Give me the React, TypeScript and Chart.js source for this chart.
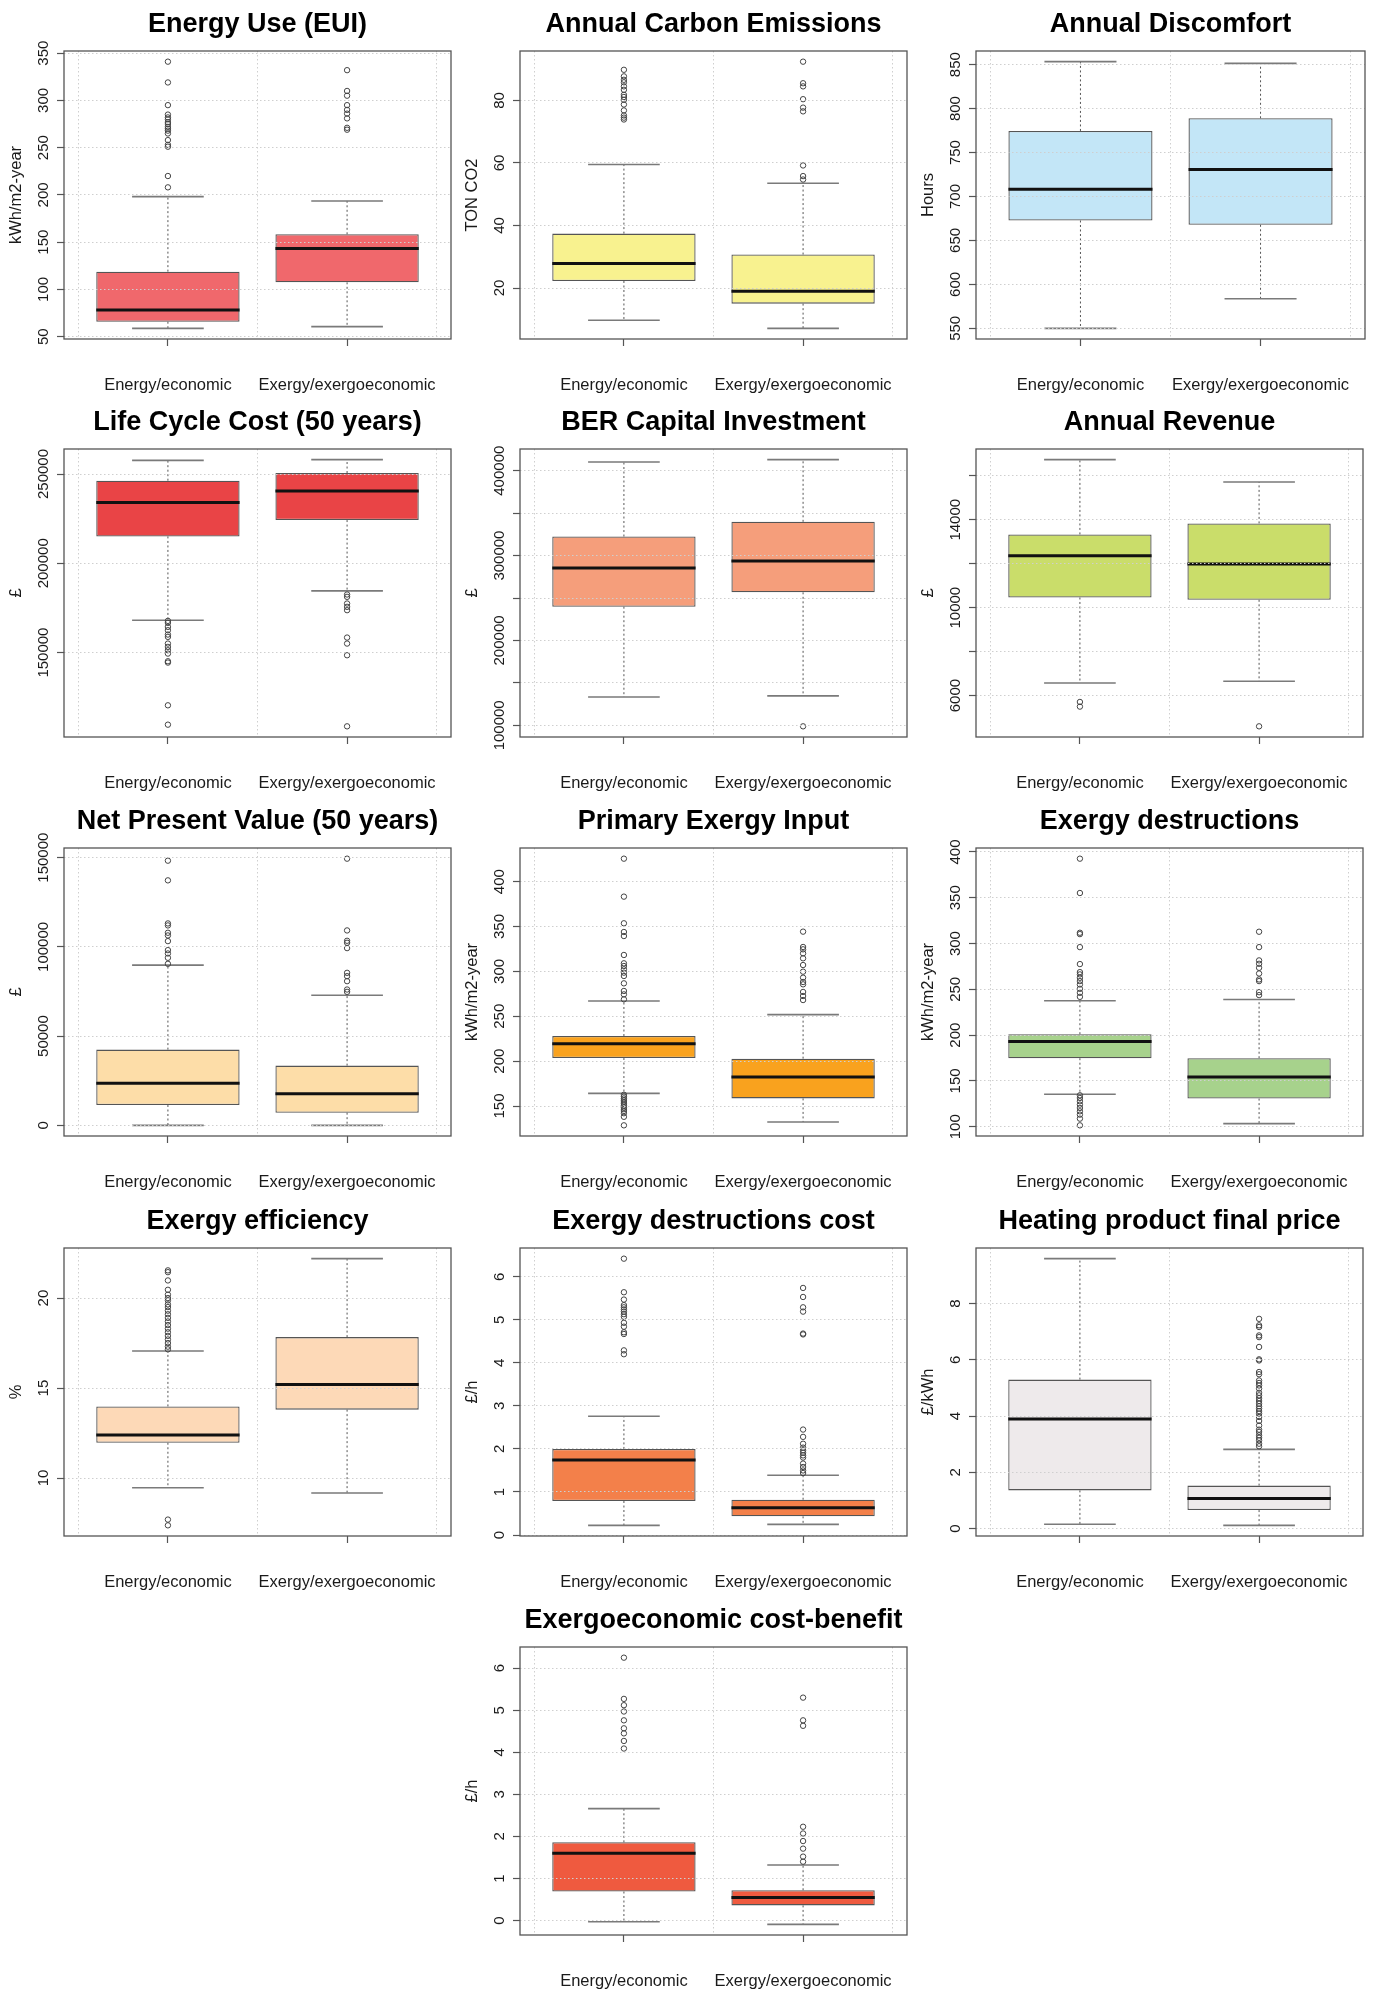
import React, { useEffect, useRef } from "react";
import { Chart, registerables } from "chart.js";

Chart.register(...registerables);

const FONT = '"Liberation Sans", Arial, Helvetica, sans-serif';
Chart.defaults.font.family = FONT;

const CATEGORIES = ["Energy/economic", "Exergy/exergoeconomic"];

// each stats row: [lower whisker, Q1, median, Q3, upper whisker]
const EUI_STATS = [[58.8, 65.8, 78.2, 118.8, 198.2], [60.6, 107.5, 143.2, 158.3, 193.6]];
const EUI_OUTLIERS = [
  [341, 319, 295, 285, 282, 280, 277, 275, 272, 270, 268, 265, 258, 253, 251, 220, 208],
  [332, 310, 305, 295, 290, 286, 281, 271, 269],
];
const EUI_TICKS = [50, 100, 150, 200, 250, 300, 350];

const CO2_STATS = [[9.7, 22.25, 27.8, 37.4, 59.5], [7.1, 15.0, 18.95, 30.7, 53.5]];
const CO2_OUTLIERS = [
  [89.8, 87.7, 86.6, 85.8, 84.5, 83.4, 81.8, 81.1, 80.2, 78.7, 76.8, 75.2, 74.5, 73.9],
  [92.4, 85.5, 84.5, 80.4, 77.7, 76.5, 59.2, 55.8, 54.7],
];
const CO2_TICKS = [20, 40, 60, 80];

const DISCOMFORT_STATS = [[550, 672.7, 708.3, 774.6, 853.4], [583.7, 667.8, 730.7, 789, 851.5]];
const DISCOMFORT_OUTLIERS: number[][] = [[], []];
const DISCOMFORT_TICKS = [550, 600, 650, 700, 750, 800, 850];

const LCC_STATS = [[168131, 215047, 234112, 246262, 257664], [184579, 224206, 240467, 250561, 258037]];
const LCC_OUTLIERS = [
  [167757, 166636, 164393, 162523, 160093, 158785, 155047, 153178, 151308, 149439, 145140, 144393, 120467, 109626],
  [182523, 181215, 177477, 175607, 173738, 158411, 155047, 148505, 108692],
];
const LCC_TICKS = [150000, 200000, 250000];

const BER_STATS = [[133465, 239764, 285433, 322441, 410236], [134646, 256693, 293701, 339764, 412992]];
const BER_OUTLIERS = [[], [98819]];
const BER_TICKS = [100000, 150000, 200000, 250000, 300000, 350000, 400000];
const BER_LABELS = [100000, 200000, 300000, 400000];

const REVENUE_STATS = [[6577, 10463, 12361, 13332, 16732], [6653, 10357, 11981, 13833, 15715]];
const REVENUE_OUTLIERS = [[5712, 5500], [4603]];
const REVENUE_TICKS = [6000, 8000, 10000, 12000, 14000, 16000];
const REVENUE_LABELS = [6000, 10000, 14000];

const NPV_STATS = [[0, 11392, 23550, 42443, 89768], [0, 7089, 17751, 33464, 72933]];
const NPV_OUTLIERS = [
  [148317, 137280, 113150, 112027, 107912, 106415, 103235, 98185, 96314, 93883, 90516],
  [149439, 109222, 103423, 102301, 99308, 85466, 83595, 80789, 76112, 74803],
];
const NPV_TICKS = [0, 50000, 100000, 150000];

const PEI_STATS = [[164.1, 203.5, 219.5, 228, 267], [132.2, 158.5, 182.3, 202.8, 251.8]];
const PEI_OUTLIERS = [
  [425.6, 383.3, 353.6, 343.9, 339.4, 318.3, 309, 306, 302.3, 298.6, 294.9, 286.7, 278.2, 274.4, 268.9,
    162.5, 160.5, 158.5, 156.5, 154.5, 152.5, 150.5, 148.5, 146.5, 144.5, 142, 138, 128.5],
  [344.3, 327.2, 324.6, 320.1, 314.6, 307.1, 299.7, 293, 288.2, 285.6, 277.1, 272.6, 268.1],
];
const PEI_TICKS = [150, 200, 250, 300, 350, 400];

const EXD_STATS = [[135.4, 174.8, 193, 201, 237.5], [103.4, 130.7, 154.4, 174.8, 238.9]];
const EXD_OUTLIERS = [
  [392.7, 355.2, 311.8, 310.3, 296.1, 277.6, 268.8, 266.3, 262.6, 259, 255.3, 250.6, 246.2, 241.8,
    134.3, 131.4, 127.8, 124.1, 120.5, 116.8, 113.2, 108.8, 101.5],
  [312.9, 296.1, 281.6, 277.9, 273.5, 267.3, 260.8, 259, 246.9, 243.7],
];
const EXD_TICKS = [100, 150, 200, 250, 300, 350, 400];

const EFF_STATS = [[9.46, 11.96, 12.39, 13.98, 17.06], [9.17, 13.8, 15.19, 17.83, 22.19]];
const EFF_OUTLIERS = [
  [21.54, 21.44, 20.98, 20.46, 20.19, 20.0, 19.87, 19.65, 19.5, 19.3, 19.1, 18.9, 18.7, 18.5, 18.3,
    18.1, 17.9, 17.7, 17.5, 17.3, 17.15, 7.69, 7.37],
  [],
];
const EFF_TICKS = [10, 15, 20];

const EDC_STATS = [[0.225, 0.79, 1.74, 2.0, 2.76], [0.248, 0.434, 0.636, 0.82, 1.39]];
const EDC_OUTLIERS = [
  [6.42, 5.64, 5.47, 5.34, 5.29, 5.24, 5.19, 5.13, 5.07, 4.93, 4.84, 4.71, 4.67, 4.29, 4.2],
  [5.74, 5.53, 5.29, 5.19, 4.68, 4.66, 2.45, 2.28, 2.12, 2.03, 1.97, 1.91, 1.85, 1.8, 1.66, 1.58, 1.5, 1.44],
];
const EDC_TICKS = [0, 1, 2, 3, 4, 5, 6];

const HPP_STATS = [[0.154, 1.36, 3.9, 5.3, 9.6], [0.118, 0.66, 1.07, 1.53, 2.82]];
const HPP_OUTLIERS = [
  [],
  [7.46, 7.23, 7.17, 6.87, 6.81, 6.46, 6.02, 5.98, 5.57, 5.49, 5.27, 5.18, 5.09, 4.98, 4.83, 4.74,
    4.64, 4.54, 4.44, 4.35, 4.27, 4.18, 4.09, 3.97, 3.83, 3.67, 3.52, 3.44, 3.32, 3.23, 3.14, 3.02, 2.93],
];
const HPP_TICKS = [0, 2, 4, 6, 8];

const ECB_STATS = [[-0.03, 0.69, 1.6, 1.86, 2.66], [-0.09, 0.36, 0.55, 0.72, 1.32]];
const ECB_OUTLIERS = [
  [6.25, 5.27, 5.12, 4.97, 4.76, 4.57, 4.45, 4.27, 4.09],
  [5.3, 4.76, 4.63, 2.23, 2.07, 1.89, 1.71, 1.52, 1.4],
];
const ECB_TICKS = [0, 1, 2, 3, 4, 5, 6];

type Panel = {
  title: string;
  unit: string;
  color: string;
  stats: number[][];
  outliers: number[][];
  ticks: number[];
  labels?: number[];
  row: number;
  col: number;
};

const PANELS: Panel[] = [
  { title: "Energy Use (EUI)", unit: "kWh/m2-year", color: "#F0686C", stats: EUI_STATS, outliers: EUI_OUTLIERS, ticks: EUI_TICKS, row: 0, col: 0 },
  { title: "Annual Carbon Emissions", unit: "TON CO2", color: "#F8F28F", stats: CO2_STATS, outliers: CO2_OUTLIERS, ticks: CO2_TICKS, row: 0, col: 1 },
  { title: "Annual Discomfort", unit: "Hours", color: "#C3E6F7", stats: DISCOMFORT_STATS, outliers: DISCOMFORT_OUTLIERS, ticks: DISCOMFORT_TICKS, row: 0, col: 2 },
  { title: "Life Cycle Cost (50 years)", unit: "£", color: "#E94446", stats: LCC_STATS, outliers: LCC_OUTLIERS, ticks: LCC_TICKS, row: 1, col: 0 },
  { title: "BER Capital Investment", unit: "£", color: "#F59E7B", stats: BER_STATS, outliers: BER_OUTLIERS, ticks: BER_TICKS, labels: BER_LABELS, row: 1, col: 1 },
  { title: "Annual Revenue", unit: "£", color: "#CADD6A", stats: REVENUE_STATS, outliers: REVENUE_OUTLIERS, ticks: REVENUE_TICKS, labels: REVENUE_LABELS, row: 1, col: 2 },
  { title: "Net Present Value (50 years)", unit: "£", color: "#FDDDA8", stats: NPV_STATS, outliers: NPV_OUTLIERS, ticks: NPV_TICKS, row: 2, col: 0 },
  { title: "Primary Exergy Input", unit: "kWh/m2-year", color: "#F9A21E", stats: PEI_STATS, outliers: PEI_OUTLIERS, ticks: PEI_TICKS, row: 2, col: 1 },
  { title: "Exergy destructions", unit: "kWh/m2-year", color: "#A7D28C", stats: EXD_STATS, outliers: EXD_OUTLIERS, ticks: EXD_TICKS, row: 2, col: 2 },
  { title: "Exergy efficiency", unit: "%", color: "#FDD9B7", stats: EFF_STATS, outliers: EFF_OUTLIERS, ticks: EFF_TICKS, row: 3, col: 0 },
  { title: "Exergy destructions cost", unit: "£/h", color: "#F3804A", stats: EDC_STATS, outliers: EDC_OUTLIERS, ticks: EDC_TICKS, row: 3, col: 1 },
  { title: "Heating product final price", unit: "£/kWh", color: "#EEEAEB", stats: HPP_STATS, outliers: HPP_OUTLIERS, ticks: HPP_TICKS, row: 3, col: 2 },
  { title: "Exergoeconomic cost-benefit", unit: "£/h", color: "#EF5A3F", stats: ECB_STATS, outliers: ECB_OUTLIERS, ticks: ECB_TICKS, row: 4, col: 1 },
];

// layout / style constants
const ROW_TOPS = [51, 449, 848, 1248, 1647];
const COL_LEFTS = [64, 520, 976];
const AXIS_W = 64;
const TITLE_H = 51;
const CANVAS_W = 456;
const CANVAS_H = 399;
const PLOT_RIGHT = 453;
const XAXIS_H = 60;
const BOX_HALF = 0.4;
const STAPLE_HALF = 0.2;
const FRAME = "#555555";
const GRID = "#CFCFCF";
const TEXT = "#1a1a1a";

function buildConfig(p: Panel): any {
  const extremes = [...p.stats.flatMap((s) => [s[0], s[4]]), ...p.outliers.flat()];
  const lo = Math.min(...extremes);
  const hi = Math.max(...extremes);
  const pad = (hi - lo) * 0.04;
  const yMin = lo - pad;
  const yMax = hi + pad;
  const xMin = 0.5 - 0.04 * 2;
  const xMax = 2.5 + 0.04 * 2;

  const boxes = p.stats.map((s, i) => ({ x: i + 1, y: [s[1], s[3]] }));
  const medians: any[] = [];
  const whiskers: any[] = [];
  const staples: any[] = [];
  p.stats.forEach((s, i) => {
    const c = i + 1;
    medians.push({ x: c - BOX_HALF, y: s[2] }, { x: c + BOX_HALF, y: s[2] }, { x: c, y: null });
    whiskers.push({ x: c, y: s[3] }, { x: c, y: s[4] }, { x: c, y: null }, { x: c, y: s[1] }, { x: c, y: s[0] }, { x: c, y: null });
    staples.push(
      { x: c - STAPLE_HALF, y: s[4] }, { x: c + STAPLE_HALF, y: s[4] }, { x: c, y: null },
      { x: c - STAPLE_HALF, y: s[0] }, { x: c + STAPLE_HALF, y: s[0] }, { x: c, y: null }
    );
  });
  const outliers = p.outliers.flatMap((arr, i) => arr.map((v) => ({ x: i + 1, y: v })));
  const labelValues = p.labels ?? p.ticks;

  const decor = {
    id: "decor",
    afterDraw(chart: any) {
      const { ctx, chartArea: a } = chart;
      const ys = chart.scales.y;
      ctx.save();
      ctx.setLineDash([]);
      ctx.strokeStyle = FRAME;
      ctx.lineWidth = 1.3;
      ctx.strokeRect(a.left, a.top, a.right - a.left, a.bottom - a.top);
      ctx.font = `15px ${FONT}`;
      ctx.fillStyle = TEXT;
      ctx.textAlign = "center";
      ctx.textBaseline = "middle";
      for (const v of labelValues) {
        const py = ys.getPixelForValue(v);
        ctx.save();
        ctx.translate(a.left - 20.5, py);
        ctx.rotate(-Math.PI / 2);
        ctx.fillText(String(v), 0, 0);
        ctx.restore();
      }
      ctx.restore();
    },
  };

  const noPad = (s: any) => {
    s.paddingLeft = 0;
    s.paddingRight = 0;
  };

  const lineBase = { type: "line", xAxisID: "x", yAxisID: "y", pointRadius: 0, fill: false, tension: 0, borderCapStyle: "butt" };

  return {
    type: "bar",
    data: {
      datasets: [
        {
          type: "bar", xAxisID: "x", yAxisID: "y", data: boxes, backgroundColor: p.color, borderColor: FRAME,
          borderWidth: 1.3, borderSkipped: false, barPercentage: 0.8, categoryPercentage: 1, order: 5,
        },
        { ...lineBase, data: whiskers, borderColor: "#555555", borderWidth: 1, borderDash: [2, 2.5], order: 4 },
        { ...lineBase, data: staples, borderColor: "#7a7a7a", borderWidth: 1.6, order: 3 },
        { ...lineBase, data: medians, borderColor: "#111111", borderWidth: 3, order: 2 },
        {
          type: "line", xAxisID: "x", yAxisID: "y", data: outliers, showLine: false, pointStyle: "circle",
          pointRadius: 2.7, pointBorderWidth: 1, pointBorderColor: "#444444", pointBackgroundColor: "rgba(0,0,0,0)", order: 1,
        },
      ],
    },
    plugins: [decor],
    options: {
      responsive: false,
      animation: false,
      devicePixelRatio: 1,
      events: [],
      layout: { padding: { left: 0, right: CANVAS_W - PLOT_RIGHT, top: 0, bottom: 0 } },
      plugins: {
        legend: { display: false },
        tooltip: { enabled: false },
        title: {
          display: true,
          text: p.title,
          fullSize: false,
          align: "center",
          color: "#000000",
          font: { family: FONT, size: 27, weight: "bold", lineHeight: 1.2 },
          padding: { top: 8, bottom: 10.6 },
        },
      },
      scales: {
        x: {
          type: "linear",
          position: "bottom",
          min: xMin,
          max: xMax,
          offset: false,
          afterBuildTicks: (s: any) => {
            s.ticks = CATEGORIES.map((_, i) => ({ value: i + 1 }));
          },
          afterFit: (s: any) => {
            s.height = XAXIS_H;
            noPad(s);
          },
          ticks: {
            callback: (v: number) => CATEGORIES[Math.round(v) - 1] ?? "",
            autoSkip: false,
            minRotation: 0,
            maxRotation: 0,
            padding: 29.4,
            color: TEXT,
            font: { family: FONT, size: 16.5, lineHeight: 1.2 },
          },
          grid: { offset: false, drawOnChartArea: false, drawTicks: true, tickLength: 7, tickColor: FRAME, tickWidth: 1.2 },
          border: { display: false },
        },
        xg: {
          type: "linear",
          position: "top",
          min: xMin,
          max: xMax,
          offset: false,
          afterBuildTicks: (s: any) => {
            s.ticks = [0.5, 1.5, 2.5].map((v) => ({ value: v }));
          },
          afterFit: (s: any) => {
            s.height = 0;
            noPad(s);
          },
          ticks: { display: false },
          grid: { offset: false, color: GRID, lineWidth: 1, drawTicks: false, z: 1 },
          border: { display: false, dash: [1.5, 2.5] },
        },
        y: {
          type: "linear",
          position: "left",
          min: yMin,
          max: yMax,
          afterBuildTicks: (s: any) => {
            s.ticks = p.ticks.map((v) => ({ value: v }));
          },
          afterFit: (s: any) => {
            s.width = AXIS_W;
            s.paddingTop = 0;
            s.paddingBottom = 0;
          },
          ticks: { display: false },
          grid: {
            color: GRID, lineWidth: 1, drawTicks: true, tickLength: 7, tickColor: FRAME, tickWidth: 1.2,
            tickBorderDash: [], z: 1,
          },
          border: { display: false, dash: [1.5, 2.5] },
          title: {
            display: true,
            text: p.unit,
            color: TEXT,
            font: { family: FONT, size: 16.5, lineHeight: 1.2 },
            padding: { top: 6.4, bottom: 0 },
          },
        },
      },
    },
  };
}

function BoxPanel({ panel }: { panel: Panel }) {
  const ref = useRef<HTMLCanvasElement>(null);
  useEffect(() => {
    if (!ref.current) return;
    const chart = new Chart(ref.current, buildConfig(panel));
    return () => chart.destroy();
  }, [panel]);
  const left = COL_LEFTS[panel.col] - AXIS_W;
  const top = ROW_TOPS[panel.row] - TITLE_H;
  return (
    <canvas
      ref={ref}
      width={CANVAS_W}
      height={CANVAS_H}
      style={{ position: "absolute", left, top, width: CANVAS_W, height: CANVAS_H }}
    />
  );
}

export default function App() {
  return (
    <div style={{ position: "absolute", left: 0, top: 0, width: 1380, height: 1996, background: "#ffffff", overflow: "hidden" }}>
      {PANELS.map((p) => (
        <BoxPanel key={p.title} panel={p} />
      ))}
    </div>
  );
}
